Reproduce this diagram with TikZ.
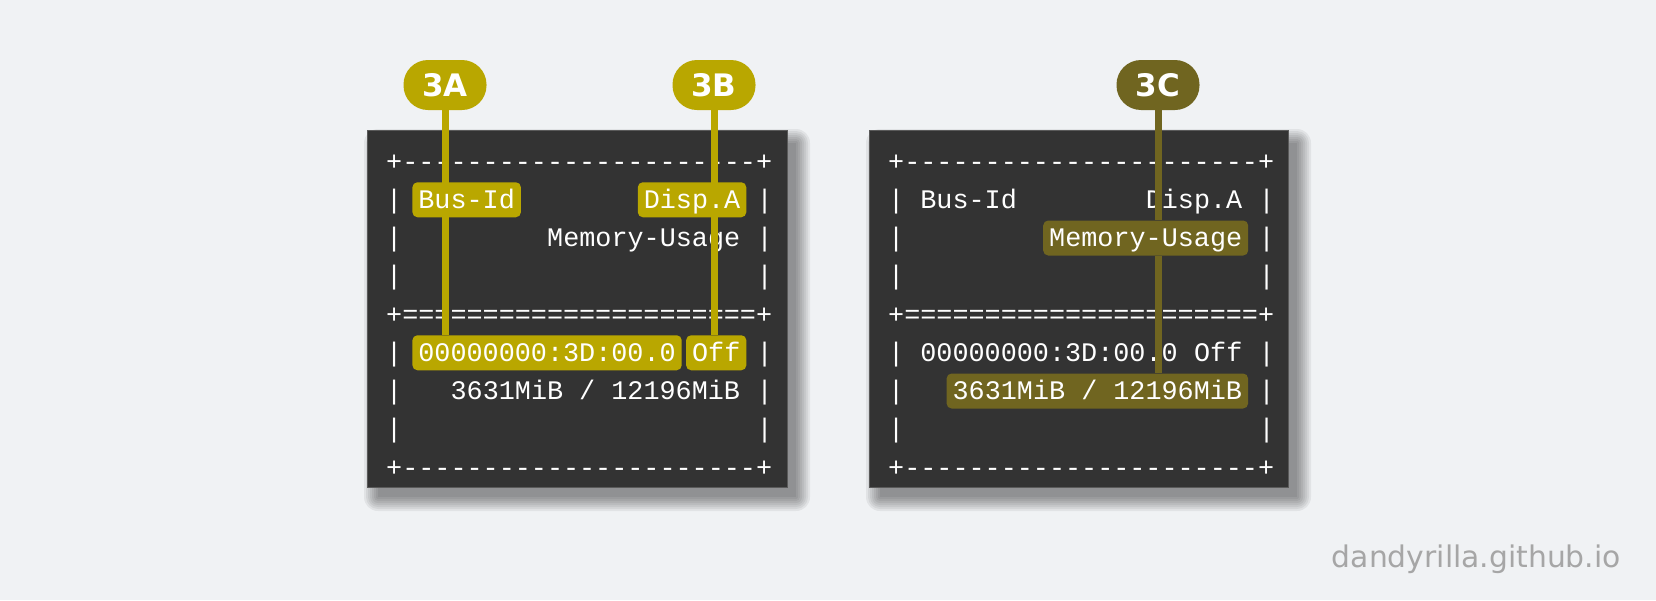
\documentclass[tikz,border=0pt]{standalone}
\usepackage{fontspec}
\setmonofont{Liberation Mono}
\newfontfamily\dejavu{DejaVu Sans}
\definecolor{bgc}{HTML}{F0F2F4}
\definecolor{panelc}{HTML}{333333}
\definecolor{paneledge}{HTML}{5A5A5A}
\definecolor{hlA}{HTML}{B9A700}
\definecolor{hlC}{HTML}{706520}
\definecolor{wmc}{HTML}{A6A6A6}
\pgfdeclarelayer{bg}\pgfdeclarelayer{txt}\pgfdeclarelayer{ln}
\pgfsetlayers{bg,txt,ln,main}
\begin{document}
\begin{tikzpicture}[x=1pt,y=-1pt,
  mono/.style={font=\ttfamily\fontsize{26.8}{30}\selectfont, text=white, inner sep=0pt, anchor=base west},
  hl/.style={mono, fill=#1, rounded corners=5pt, inner xsep=6pt, inner ysep=0pt, text height=26pt, text depth=9pt},
  badge/.style={fill=#1, text=white, font=\dejavu\bfseries\fontsize{31}{31}\selectfont, minimum width=83pt, minimum height=50pt, rounded corners=24.5pt, inner sep=0pt},
  lead/.style={draw=#1, line width=7pt},
  panel/.style={fill=panelc, draw=paneledge, line width=1pt},
]
\useasboundingbox (0,0) rectangle (1656,600);

\begin{pgfonlayer}{bg}
\fill[bgc] (0,0) rectangle (1656,600);
\foreach \s in {0,2,...,14} {
  \fill[black, opacity=0.06, rounded corners=\s pt] ({367+11-\s},{130+13-\s}) rectangle ({787+9+\s},{487+10+\s});
  \fill[black, opacity=0.06, rounded corners=\s pt] ({869+11-\s},{130+13-\s}) rectangle ({1288+9+\s},{487+10+\s});
}
\draw[panel] (367,130) rectangle (787,487);
\draw[panel] (869,130) rectangle (1288,487);
\end{pgfonlayer}

% ---------- left panel ----------
\begin{pgfonlayer}{txt}
\node[mono] (L1) at (386,170) {+----------------------+};
\node[mono] (L2a) at (386,208.25) {|};
\node[mono] (L2b) at (756.3,208.25) {|};
\node[mono] (L3a) at (386,246.5) {|};
\node[mono] (L3m) at (547,246.5) {Memory-Usage};
\node[mono] (L3b) at (756.3,246.5) {|};
\node[mono] (L4a) at (386,284.75) {|};
\node[mono] (L4b) at (756.3,284.75) {|};
\node[mono] (L5) at (386,323) {+======================+};
\node[mono] (L6a) at (386,361.25) {|};
\node[mono] (L6b) at (756.3,361.25) {|};
\node[mono] (L7a) at (386,399.5) {|};
\node[mono] (L7m) at (450.4,399.5) {3631MiB / 12196MiB};
\node[mono] (L7b) at (756.3,399.5) {|};
\node[mono] (L8a) at (386,437.75) {|};
\node[mono] (L8b) at (756.3,437.75) {|};
\node[mono] (L9) at (386,476) {+----------------------+};
\end{pgfonlayer}
\node[hl=hlA] (hA1) at (412.2,208.25) {Bus-Id};
\node[hl=hlA] (hB1) at (637.6,208.25) {Disp.A};
\node[hl=hlA] (hA2) at (412.2,361.25) {00000000:3D:00.0};
\node[hl=hlA] (hB2) at (685.9,361.25) {Off};

% ---------- right panel ----------
\begin{pgfonlayer}{txt}
\node[mono] (R1) at (888,170) {+----------------------+};
\node[mono] (R2a) at (888,208.25) {|};
\node[mono] (R2m) at (920.2,208.25) {Bus-Id};
\node[mono] (R2n) at (1145.6,208.25) {Disp.A};
\node[mono] (R2b) at (1258.3,208.25) {|};
\node[mono] (R3a) at (888,246.5) {|};
\node[mono] (R3b) at (1258.3,246.5) {|};
\node[mono] (R4a) at (888,284.75) {|};
\node[mono] (R4b) at (1258.3,284.75) {|};
\node[mono] (R5) at (888,323) {+======================+};
\node[mono] (R6a) at (888,361.25) {|};
\node[mono] (R6m) at (920.2,361.25) {00000000:3D:00.0};
\node[mono] (R6n) at (1193.9,361.25) {Off};
\node[mono] (R6b) at (1258.3,361.25) {|};
\node[mono] (R7a) at (888,399.5) {|};
\node[mono] (R7b) at (1258.3,399.5) {|};
\node[mono] (R8a) at (888,437.75) {|};
\node[mono] (R8b) at (1258.3,437.75) {|};
\node[mono] (R9) at (888,476) {+----------------------+};
\end{pgfonlayer}
\node[hl=hlC] (hC1) at (1043,246.5) {Memory-Usage};
\node[hl=hlC] (hC2) at (946.4,399.5) {3631MiB / 12196MiB};

% ---------- badges ----------
\node[badge=hlA] (b3A) at (445,85) {3A};
\node[badge=hlA] (b3B) at (714,85) {3B};
\node[badge=hlC] (b3C) at (1158,85) {3C};

% ---------- leader lines ----------
\begin{pgfonlayer}{ln}
\draw[lead=hlA] (b3A.south) -- (b3A.south |- hA2.north);
\draw[lead=hlA] (b3B.south) -- (b3B.south |- hB2.north);
\draw[lead=hlC] (b3C.south) -- (b3C.south |- hC1.north);
\draw[lead=hlC] (b3C.south |- hC1.south) -- (b3C.south |- hC2.north);
\end{pgfonlayer}

% ---------- watermark ----------
\node[font=\dejavu\fontsize{29.8}{30}\selectfont, text=wmc, anchor=base east, inner sep=0pt] (wm) at (1621,567) {dandyrilla.github.io};
\end{tikzpicture}
\end{document}
